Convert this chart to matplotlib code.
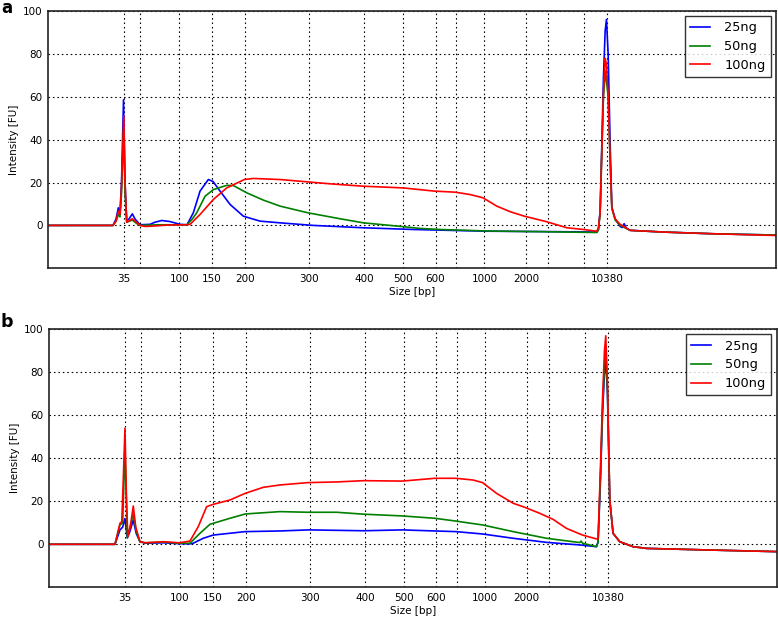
import matplotlib
matplotlib.use("Agg")
import matplotlib.pyplot as plt

# ---- axis ticks (migration position -> size label) ----
tick_pos = [75.8, 91.6, 130.8, 163.4, 196.9, 260.8, 315.7, 354.9, 387.1, 408.0,
            436.0, 477.5, 499.8, 535.7, 559.0]
tick_labels = ['35', '', '100', '150', '200', '300', '400', '500', '600', '',
               '1000', '2000', '', '', '10380']
y_ticks = [0, 20, 40, 60, 80, 100]
series_names = ['25ng', '50ng', '100ng']
series_colors = ['#0000ff', '#008000', '#ff0000']

# ---- panel a ----
a_25_x = [0, 64.7, 67.7, 70, 71.7, 73.2, 75.2, 76.7, 78.4, 80.7, 84, 86.7, 91.7, 101.7, 106.7,
          113.4, 121.7, 131.7, 138.7, 145, 151.7, 160, 164.7, 171.7, 181.7, 195, 211.7, 231.7,
          265, 315, 365, 391.7, 438.4, 505, 548.4, 550, 551.7, 553.4, 555, 556.7, 558, 559.7,
          561.7, 563.4, 566.7, 571.7, 573.7, 575.7, 577.7, 581.7, 615, 665, 727.7]
a_25_y = [0, 0, 3, 8.2, 6, 20, 58.6, 20, 2, 3, 5.4, 3, 0.3, 0.5, 1.5,
          2.3, 1.8, 0.5, 0.3, 5.9, 16, 21.4, 20.5, 16, 9.8, 4.3, 2, 1.2,
          0, -1.1, -1.9, -2.2, -2.7, -2.9, -3.1, -2, 7, 38, 69, 90.7, 96, 80,
          38, 8.5, 3.1, -0.5, -1, 0.8, -1.2, -2.3, -3.1, -3.9, -4.5]

a_50_x = [0, 64.7, 67.7, 70, 71.7, 73.2, 75.3, 76.7, 78.4, 84, 88, 91.7, 110, 125, 138.7, 144,
          148.4, 156.7, 165, 178.4, 185, 198.4, 215, 231.7, 259.4, 291.7, 315, 348.4, 371.7,
          391.7, 438.4, 505, 548.4, 550, 551.7, 553.4, 555, 557, 559.7, 561.7, 563.4, 566.7,
          571.7, 581.7, 615, 665, 727.7]
a_50_y = [0, 0, 2, 5, 4, 15, 45, 15, 1.5, 2.5, 1, 0, 0.3, 0.3, 0.3, 3,
          5.9, 13.6, 16.7, 18.7, 18.6, 15.2, 11.8, 9.0, 5.9, 3.1, 1.2, -0.3, -1.4,
          -1.9, -2.6, -3.0, -3.3, -2, 6, 35, 60, 72, 60, 30, 8, 2.5,
          0, -2.3, -3.1, -3.9, -4.5]

a_100_x = [0, 64.7, 67.7, 70, 71.7, 73.2, 75.5, 76.7, 78.4, 84, 88, 91.7, 97, 105, 120, 138.7,
           141.7, 151.7, 165, 178.4, 196, 205, 231.7, 259.4, 281.7, 314.4, 354.4, 386, 406.7,
           421.7, 434.4, 448.4, 461.7, 476, 498.4, 518.4, 535, 548.4, 550, 551.7, 553.4, 555,
           556.7, 558, 559.7, 561.7, 563.4, 566.7, 571.7, 581.7, 615, 665, 727.7]
a_100_y = [0, 0, 2, 6.7, 5, 18, 51, 20, 1.5, 3.1, 1.5, 0, -0.5, -0.3, 0.2, 0.3,
           0.5, 5.1, 12.1, 17.5, 21.4, 21.9, 21.4, 20.3, 19.4, 18.3, 17.5, 16, 15.5,
           14.4, 12.9, 9, 6.4, 4.3, 1.7, -1.1, -1.9, -2.7, -1, 6, 35, 62,
           78, 75, 60, 30, 8, 3, 0.5, -2.3, -3.1, -3.9, -4.7]

# ---- panel b ----
b_25_x = [0, 65.7, 70.7, 73.4, 75.7, 78, 80.7, 84, 87, 90.7, 96, 114, 130, 141, 144, 154, 164,
          196, 230.7, 259, 314.7, 353, 385.7, 406.7, 433.4, 464, 497.4, 530.7, 547.4, 549,
          551.4, 553.4, 555.4, 556.7, 558.4, 560.7, 564, 570.7, 584, 597.4, 630.7, 664, 727.4]
b_25_y = [0, 0, 6.7, 8, 12, 3, 6, 11.3, 5, 1.2, 0.5, 0.7, 0.3, 0.2, 0.5, 2.8, 4.3,
          5.9, 6.2, 6.7, 6.3, 6.7, 6.2, 5.9, 4.8, 2.8, 0.9, -0.3, -1.1, 1,
          30, 60, 80, 86, 70, 20.6, 5.1, 1.2, -1.1, -1.9, -2.3, -2.7, -3.4]

b_50_x = [0, 65.7, 70.7, 73.4, 75.7, 78, 80.7, 84, 87, 90.7, 96, 114, 130, 140.7, 150.7, 160.7,
          180.7, 196, 230.7, 259, 287.4, 314.7, 353, 385.7, 406.7, 433.4, 464, 497.4, 530.7,
          532, 533.5, 547.4, 549, 551.4, 553.4, 555.4, 556.7, 558.4, 560.7, 564, 570.7, 584,
          597.4, 630.7, 664, 727.4]
b_50_y = [0, 0, 9, 10, 45, 3, 8, 14, 6, 1.2, 0.7, 1.0, 0.5, 0.5, 5.1, 9.3,
          12.1, 14.1, 15.2, 14.9, 14.9, 14, 13.2, 12.1, 10.8, 9, 5.9, 2.8, 0.8,
          1.5, 0.5, -1.1, 1, 32, 62, 84, 90, 72, 20.6, 5.1, 1.2, -1.1,
          -1.9, -2.3, -2.7, -3.4]

b_100_x = [0, 65.7, 70.7, 72.5, 74, 75.7, 77, 78.5, 81, 84, 86.5, 90.7, 96, 114, 130, 140.7,
           149, 157.4, 164, 180.7, 196, 214, 230.7, 259, 287.4, 314.7, 353, 385.7, 406.7, 424,
           433.4, 447.4, 464, 475.7, 490.7, 504, 517.4, 533.4, 547.4, 549, 551.4, 553.4, 555.4,
           556.7, 558.4, 560.7, 564, 570.7, 584, 597.4, 630.7, 664, 727.4]
b_100_y = [0, 0, 9.8, 10.5, 30, 54, 25, 3.5, 8, 17.8, 8, 1.2, 0.7, 1.2, 0.7, 1.5,
           8.2, 17.5, 18.6, 20.6, 23.7, 26.5, 27.6, 28.7, 29, 29.6, 29.4, 30.7, 30.7, 29.9,
           28.7, 23.7, 19.1, 17.2, 14.4, 11.6, 7.4, 4.3, 2.5, 2.5, 36, 67, 90,
           97, 75, 20.6, 5.1, 1.2, -1.1, -1.9, -2.3, -2.7, -3.4]

W, H = 778, 619
fig = plt.figure(figsize=(W / 100, H / 100), dpi=100)


def make_panel(rect, xs, ys):
    ax = fig.add_axes(rect)
    for x, y, name, c in zip(xs, ys, series_names, series_colors):
        ax.plot(x, y, color=c, lw=1.2, label=name)
    ax.set_xlim(0, 727.5)
    ax.set_ylim(-20, 100)
    ax.set_xticks(tick_pos)
    ax.set_xticklabels(tick_labels)
    ax.set_yticks(y_ticks)
    ax.tick_params(length=0, labelsize=7.5, pad=4)
    ax.grid(True, color='k', linestyle=(0, (1.4, 2.6)), linewidth=0.8)
    for s in ax.spines.values():
        s.set_linewidth(1.2)
        s.set_color('#222222')
    ax.set_xlabel('Size [bp]', fontsize=7.5, labelpad=2)
    ax.set_ylabel('Intensity [FU]', fontsize=7.5, labelpad=3)
    leg = ax.legend(loc='upper right', fontsize=9.3, frameon=True, fancybox=False,
                    borderaxespad=0.4, handlelength=1.55, handletextpad=1.1,
                    labelspacing=0.45, borderpad=0.4)
    leg.get_frame().set_edgecolor('black')
    leg.get_frame().set_linewidth(1.0)
    return ax


make_panel([48.3 / W, 1 - 268.3 / H, (776 - 48.3) / W, (268.3 - 11) / H],
           [a_25_x, a_50_x, a_100_x], [a_25_y, a_50_y, a_100_y])
make_panel([49.3 / W, 1 - 587.3 / H, (776.5 - 49.3) / W, (587.3 - 329.3) / H],
           [b_25_x, b_50_x, b_100_x], [b_25_y, b_50_y, b_100_y])

fig.text(0.001, 1 - 13.0 / H, 'a', fontsize=12, fontweight='bold', ha='left', va='baseline')
fig.text(0.001, 1 - 326.7 / H, 'b', fontsize=12.5, fontweight='bold', ha='left', va='baseline')

fig.savefig('out.png', dpi=100)
